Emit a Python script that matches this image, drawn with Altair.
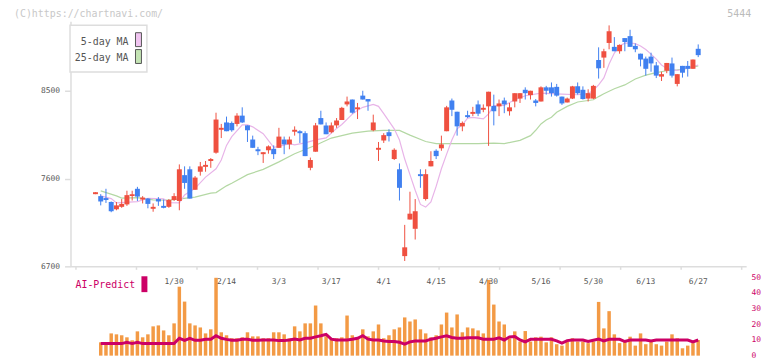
import altair as alt
import pandas as pd

# ---- data (trading-day index 0..115) ----
OPEN = [7440, 7420, 7400, 7360, 7285, 7310, 7335, 7420, 7495, 7385,
        7395, 7290, 7390, 7320, 7310, 7380, 7370, 7635, 7695, 7485,
        7670, 7720, 7780, 7865, 8100, 8175, 8170, 8160, 8245, 8145,
        8000, 7900, 7850, 7890, 7905, 7915, 8000, 7950, 8080, 8085,
        8065, 7710, 7875, 8220, 8145, 8075, 8145, 8200, 8360, 8410,
        8310, 8450, 8415, 8095, 7895, 7990, 8075, 7800, 7695, 6805,
        7180, 7085, 7645, 7390, 7725, 7885, 7910, 8085, 8400, 8285,
        8135, 8250, 8263, 8360, 8305, 8340, 8345, 8340, 8400, 8290,
        8390, 8420, 8510, 8455, 8400, 8390, 8535, 8535, 8540, 8440,
        8380, 8420, 8545, 8510, 8420, 8420, 8815, 8840, 8990, 8950,
        8905, 9040, 9060, 8960, 8880, 8830, 8850, 8760, 8645, 8705,
        8780, 8570, 8755, 8755, 8725, 8930]
HIGH = [7460, 7440, 7495, 7365, 7360, 7390, 7475, 7475, 7515, 7420,
        7400, 7345, 7410, 7385, 7390, 7450, 7745, 7725, 7725, 7625,
        7770, 7780, 7810, 8275, 8160, 8235, 8185, 8270, 8330, 8145,
        8040, 7925, 7870, 7940, 7940, 8120, 8030, 8030, 8135, 8095,
        8085, 7815, 8170, 8295, 8175, 8175, 8220, 8335, 8440, 8410,
        8375, 8500, 8415, 8255, 7975, 8065, 8105, 7910, 7755, 7125,
        7465, 7390, 7695, 7695, 7880, 7900, 8040, 8345, 8420, 8285,
        8185, 8295, 8335, 8400, 8360, 8490, 8460, 8410, 8430, 8375,
        8475, 8475, 8535, 8500, 8415, 8545, 8550, 8585, 8570, 8440,
        8430, 8550, 8585, 8545, 8515, 8560, 8945, 8930, 9170, 9050,
        8975, 9040, 9125, 8985, 8880, 8850, 8890, 8795, 8695, 8785,
        8840, 8670, 8755, 8805, 8820, 8975]
LOW = [7440, 7325, 7350, 7255, 7275, 7300, 7320, 7375, 7370, 7345,
       7295, 7260, 7320, 7295, 7300, 7370, 7275, 7495, 7395, 7485,
       7630, 7670, 7710, 7855, 8015, 8085, 8080, 8135, 8170, 7975,
       7915, 7840, 7760, 7855, 7800, 7915, 7850, 7900, 8040, 7965,
       7830, 7685, 7875, 8155, 8055, 8065, 8120, 8200, 8340, 8265,
       8210, 8410, 8295, 8085, 7780, 7965, 7980, 7790, 7375, 6755,
       7180, 6975, 7505, 7375, 7725, 7800, 7885, 8085, 8240, 8040,
       8085, 8220, 8240, 8240, 8280, 7935, 8145, 8240, 8270, 8245,
       8330, 8375, 8410, 8410, 8340, 8390, 8460, 8440, 8440, 8355,
       8380, 8415, 8460, 8410, 8390, 8415, 8625, 8735, 8925, 8905,
       8880, 8905, 8950, 8895, 8750, 8655, 8695, 8630, 8600, 8680,
       8635, 8545, 8635, 8645, 8725, 8845]
CLOSE = [7460, 7365, 7380, 7265, 7325, 7340, 7430, 7440, 7415, 7405,
         7340, 7310, 7365, 7300, 7380, 7420, 7695, 7555, 7395, 7610,
         7725, 7740, 7800, 8205, 8120, 8085, 8095, 8245, 8175, 8095,
         7915, 7880, 7870, 7930, 7850, 8030, 7950, 8000, 8100, 8065,
         7830, 7790, 8145, 8155, 8055, 8145, 8195, 8325, 8390, 8275,
         8330, 8410, 8390, 8175, 7915, 8045, 8035, 7895, 7505, 6895,
         7240, 7265, 7625, 7645, 7780, 7830, 7950, 8330, 8305, 8135,
         8170, 8230, 8283, 8265, 8325, 8490, 8290, 8370, 8360, 8330,
         8475, 8475, 8475, 8500, 8375, 8535, 8500, 8475, 8450, 8370,
         8420, 8545, 8475, 8415, 8475, 8550, 8730, 8905, 9110, 8905,
         8970, 9000, 8950, 8925, 8820, 8725, 8780, 8655, 8670, 8785,
         8655, 8670, 8685, 8725, 8820, 8865]

# volume bars and AI-Predict line start at day 1
VOLUME = [8.5, 7.9, 14.2, 13.6, 13.0, 11.7, 9.8, 15.5, 11.7, 13.6,
          18.7, 19.3, 16.1, 13.0, 20.6, 44.0, 34.5, 20.6, 19.3, 18.0,
          14.2, 16.8, 49.7, 14.9, 13.0, 11.1, 11.1, 11.7, 14.9, 12.3,
          12.3, 11.1, 11.1, 14.9, 14.9, 13.6, 11.1, 18.7, 15.5, 20.6,
          20.6, 32.0, 20.6, 12.3, 11.1, 11.1, 11.7, 25.6, 13.0, 11.1,
          16.8, 12.3, 15.5, 19.9, 11.1, 13.0, 16.8, 18.0, 24.4, 21.8,
          23.1, 16.8, 14.2, 11.7, 13.0, 19.9, 27.5, 18.0, 26.3, 14.9,
          18.0, 17.4, 16.1, 14.2, 48.4, 32.6, 21.8, 19.9, 11.1, 15.5,
          9.0, 15.7, 9.0, 11.7, 12.1, 8.5, 11.7, 7.3, 6.4, 9.0,
          11.1, 9.0, 9.0, 8.0, 9.0, 34.3, 17.4, 28.4, 13.6, 8.0,
          9.0, 12.1, 6.4, 14.2, 7.3, 9.0, 7.3, 6.4, 9.0, 13.6,
          11.1, 4.7, 6.4, 8.0, 10.0]
AI_PREDICT = [7.7, 7.7, 7.7, 7.7, 7.7, 8.5, 7.7, 8.5, 7.7, 7.7,
              7.7, 7.7, 7.7, 7.7, 7.7, 11.1, 9.8, 11.1, 9.8, 9.8,
              10.4, 10.4, 12.7, 11.1, 10.4, 9.8, 9.8, 10.4, 10.4, 9.8,
              9.8, 10.0, 10.0, 10.0, 9.6, 9.6, 10.0, 10.6, 10.0, 11.1,
              11.1, 12.0, 12.7, 13.6, 10.5, 10.0, 10.0, 10.0, 10.5, 11.1,
              12.7, 10.5, 10.0, 10.0, 9.4, 9.0, 9.0, 8.5, 7.4, 8.8,
              9.4, 9.4, 9.4, 10.5, 11.1, 12.0, 12.7, 11.6, 11.1, 11.1,
              11.4, 11.4, 11.4, 10.5, 10.5, 10.5, 11.4, 10.0, 12.0, 12.2,
              10.0, 8.8, 10.4, 10.4, 10.4, 10.4, 10.4, 9.4, 8.0, 9.6,
              10.0, 10.0, 10.0, 9.0, 9.8, 10.6, 9.4, 10.4, 10.4, 10.4,
              9.0, 10.0, 10.0, 10.0, 10.0, 9.4, 10.0, 10.0, 10.0, 10.0,
              10.0, 10.0, 10.0, 8.8, 10.0]

MA5_IDX = [1, 3, 4, 8, 10, 13, 14, 16, 17, 19, 21, 23, 24, 25, 26, 28, 29, 30,
           32, 34, 35, 37, 38, 40, 42, 44, 46, 47, 49, 50, 51, 53, 54, 55, 57,
           58, 59, 60, 61, 62, 63, 64, 65, 66, 67, 68, 69, 70, 71, 72, 74, 75,
           76, 78, 80, 82, 85, 89, 92, 94, 95, 96, 97, 98, 99, 100, 101, 102,
           103, 104, 105, 106, 107, 108, 109, 110, 111, 112, 113, 114, 115]
MA5 = [7422, 7395, 7350, 7364, 7398, 7391, 7354, 7350, 7432, 7500, 7615, 7700,
       7790, 7940, 8030, 8150, 8150, 8130, 8060, 7920, 7930, 7958, 7945, 7966,
       7997, 8017, 8114, 8154, 8260, 8300, 8330, 8360, 8340, 8265, 8110, 7995,
       7800, 7640, 7480, 7335, 7307, 7360, 7520, 7700, 7850, 7995, 8110, 8150,
       8220, 8228, 8212, 8263, 8347, 8350, 8408, 8449, 8475, 8466, 8459, 8470,
       8505, 8560, 8632, 8775, 8886, 8958, 8988, 8988, 8983, 8958, 8922, 8876,
       8825, 8764, 8729, 8714, 8708, 8719, 8734, 8749, 8764]

MA25_IDX = [1, 4, 5, 8, 11, 14, 19, 22, 23, 25, 26, 29, 32, 35, 38, 42, 45, 49,
            52, 55, 58, 60, 63, 65, 69, 73, 76, 78, 81, 83, 84, 85, 86, 87, 88,
            90, 92, 94, 95, 96, 97, 99, 101, 103, 105, 107, 109, 111, 113, 115]
MA25 = [7473, 7422, 7399, 7405, 7381, 7378, 7409, 7450, 7456, 7525, 7551, 7640,
        7694, 7771, 7854, 7941, 8015, 8066, 8086, 8093, 8093, 8045, 7980, 7958,
        7958, 7958, 7964, 7958, 7992, 8040, 8095, 8160, 8200, 8228, 8280, 8340,
        8385, 8400, 8408, 8440, 8470, 8520, 8560, 8620, 8660, 8685, 8705, 8715,
        8728, 8755]

DATE_IDX = [15, 25, 35, 45, 55, 65, 75, 85, 95, 105, 115]
DATE_LABELS = ["1/30", "2/14", "3/3", "3/17", "4/1", "4/15", "4/30",
               "5/16", "5/30", "6/13", "6/27"]
PRICE_TICKS = [6700, 7600, 8500]
AI_TICKS = [0, 10, 20, 30, 40, 50]

# ---- frames ----
candles = pd.DataFrame({
    "idx": list(range(len(OPEN))), "open": OPEN, "high": HIGH,
    "low": LOW, "close": CLOSE,
})
candles["dir"] = ["up" if c >= o else "down" for o, c in zip(OPEN, CLOSE)]
vol = pd.DataFrame({"idx": list(range(1, 1 + len(VOLUME))), "vol": VOLUME})
ai = pd.DataFrame({"idx": list(range(1, 1 + len(AI_PREDICT))), "ai": AI_PREDICT})
ma5 = pd.DataFrame({"idx": MA5_IDX, "v": MA5})
ma25 = pd.DataFrame({"idx": MA25_IDX, "v": MA25})
dates = pd.DataFrame({"idx": DATE_IDX, "label": DATE_LABELS})
one = pd.DataFrame({"a": [0]})

MONO = "DejaVu Sans Mono"
W, H = 681, 349
X_MIN, X_MAX = -3.82, 123.2
X_TICKS = [X_MIN + k * (X_MAX - X_MIN) / 11 for k in range(12)]

xs = alt.Scale(domain=[X_MIN, X_MAX], nice=False, zero=False)
x_axis = alt.Axis(values=X_TICKS, labels=False, title=None, grid=False,
                  domainColor="#dddddd", domainWidth=1.5, tickColor="#dddddd",
                  tickWidth=1.5, tickSize=3, offset=-90)
X = alt.X("idx:Q", scale=xs, axis=x_axis)

ps = alt.Scale(domain=[6700, 9212], range=[259, 12], nice=False, zero=False)
p_axis = alt.Axis(values=PRICE_TICKS, title=None, orient="left", grid=False,
                  format="d",
                  domainColor="#dddddd", domainWidth=1.5, tickColor="#dddddd",
                  tickWidth=1.5, tickSize=6, labelFont=MONO, labelFontSize=8,
                  labelColor="#555555", labelPadding=5)
vs = alt.Scale(domain=[0, 57], range=[349, 259], nice=False, zero=False)
v_axis = alt.Axis(values=AI_TICKS, title=None, orient="right", grid=False,
                  format="d",
                  domain=False, ticks=False, labelFont=MONO, labelFontSize=8,
                  labelColor="#cc0066", labelPadding=5)

cscale = alt.Scale(domain=["up", "down"], range=["#ef5040", "#4080f0"])

wick = alt.Chart(candles).mark_rule(strokeWidth=1).encode(
    x=X, y=alt.Y("low:Q", scale=ps, axis=p_axis), y2="high:Q",
    color=alt.Color("dir:N", scale=cscale, legend=None))
body = alt.Chart(candles).mark_bar(size=5).encode(
    x=X, y=alt.Y("open:Q", scale=ps, axis=p_axis), y2="close:Q",
    color=alt.Color("dir:N", scale=cscale, legend=None))
ma5_line = alt.Chart(ma5).mark_line(color="#e8b4e8", strokeWidth=1.2).encode(
    x=X, y=alt.Y("v:Q", scale=ps, axis=p_axis))
ma25_line = alt.Chart(ma25).mark_line(color="#b4d8a4", strokeWidth=1.2).encode(
    x=X, y=alt.Y("v:Q", scale=ps, axis=p_axis))
price = alt.layer(ma25_line, ma5_line, wick, body)

vol_bars = alt.Chart(vol).mark_bar(size=3.5, color="#f39a45").encode(
    x=X, y=alt.Y("vol:Q", scale=vs, axis=v_axis))
ai_line = alt.Chart(ai).mark_line(color="#cc0066", strokeWidth=3).encode(
    x=X, y=alt.Y("ai:Q", scale=vs, axis=v_axis))
date_text = alt.Chart(dates).mark_text(font=MONO, fontSize=8, color="#555555",
                                       baseline="middle").encode(
    x=X, y=alt.value(274.5), text="label:N")
lower = alt.layer(vol_bars, ai_line, date_text)

def txt(s, x, y, align, size, color):
    return alt.Chart(one).mark_text(font=MONO, fontSize=size, color=color,
                                    align=align, baseline="middle").encode(
        x=alt.value(x), y=alt.value(y), text=alt.value(s))

def box(x, x2, y, y2, fill, stroke, sw):
    return alt.Chart(one).mark_rect(fill=fill, stroke=stroke, strokeWidth=sw).encode(
        x=alt.value(x), x2=alt.value(x2), y=alt.value(y), y2=alt.value(y2))

decor = alt.layer(
    txt("(C)https://chartnavi.com/", -57, 4.5, "left", 10, "#c8c8c8"),
    txt("5444", 686, 4.5, "right", 10, "#bbbbbb"),
    box(-0.5, 77, 16, 63, "#ffffff", "#dddddd", 1.5),
    txt("5-day MA", 58.5, 32.5, "right", 10, "#555555"),
    txt("25-day MA", 58.5, 49, "right", 10, "#555555"),
    box(65.5, 71.5, 23.5, 37.5, "#f0c4f0", "#555555", 1),
    box(65.5, 71.5, 40.5, 54.5, "#c4e4b4", "#555555", 1),
    txt("AI-Predict", 5, 278, "left", 10, "#cc0066"),
    box(71.5, 77.5, 269, 285, "#cc0066", "#cc0066", 0),
)

chart = alt.layer(price, lower, decor).resolve_scale(y="independent").properties(
    width=W, height=H,
    autosize=alt.AutoSizeParams(type="none"),
    padding={"left": 63, "top": 0, "right": 18, "bottom": 4},
).configure_view(strokeWidth=0)

chart.save("out.html", embed_options={"renderer": "svg", "actions": False})
